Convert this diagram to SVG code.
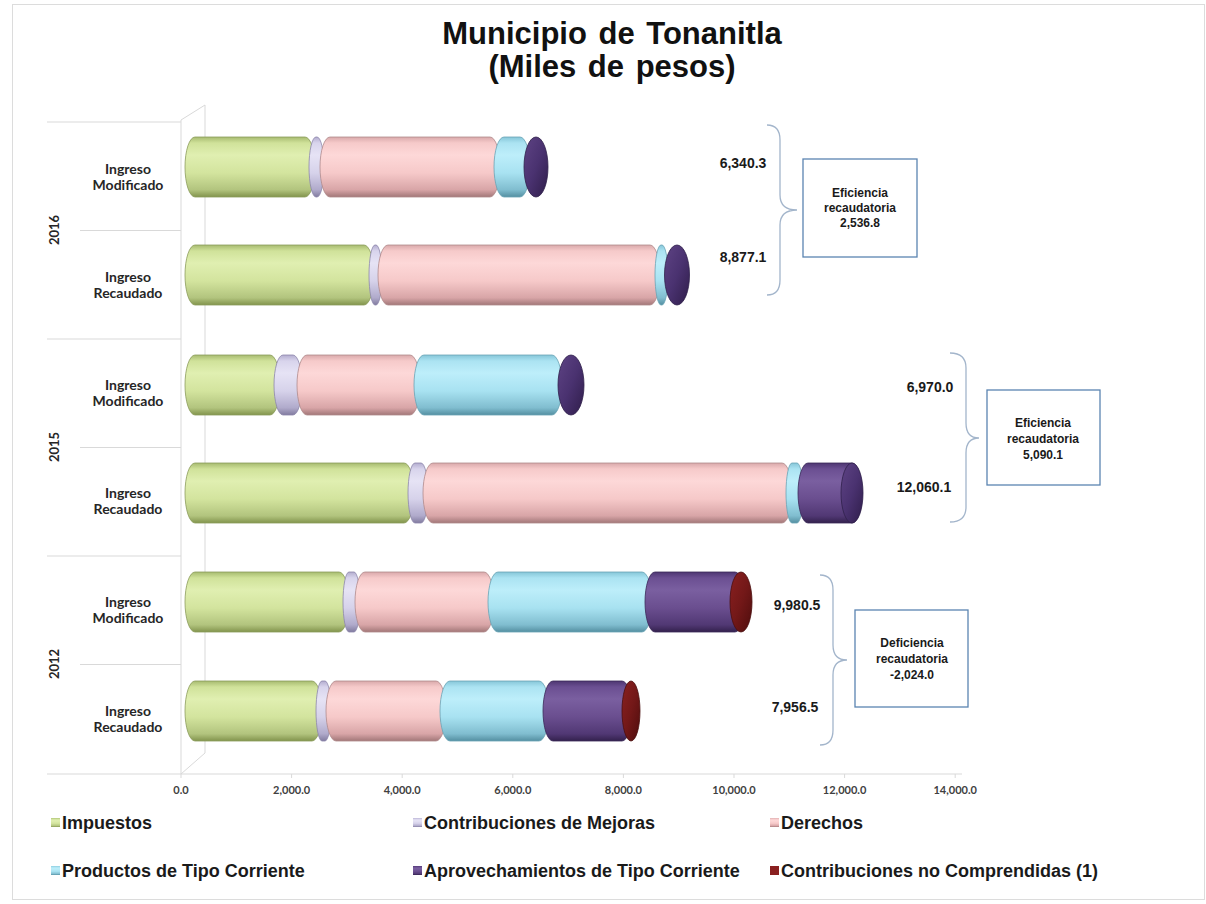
<svg xmlns="http://www.w3.org/2000/svg" width="1206" height="904" viewBox="0 0 1206 904">
<style>
.title{font-family:"Liberation Sans",Arial,sans-serif;font-weight:700;font-size:31px;fill:#111;text-anchor:middle;word-spacing:3px}
.cat{font-family:Lato,"Liberation Sans",sans-serif;font-weight:700;font-size:14px;fill:#262626;text-anchor:middle}
.yr{font-family:Lato,"Liberation Sans",sans-serif;font-weight:700;font-size:13px;fill:#262626;text-anchor:middle}
.tick{font-family:Lato,"Liberation Sans",sans-serif;font-weight:700;font-size:11px;fill:#404040;text-anchor:middle}
.val{font-family:"Liberation Sans",Arial,sans-serif;font-weight:700;font-size:14px;fill:#1a1a1a;text-anchor:middle}
.bx{font-family:"Liberation Sans",Arial,sans-serif;font-weight:700;font-size:12px;fill:#1a1a1a;text-anchor:middle}
.leg{font-family:"Liberation Sans",Arial,sans-serif;font-weight:700;font-size:18px;fill:#1a1a1a}
.grid{stroke:#d9d9d9;stroke-width:1;fill:none}
.brace{fill:none;stroke:#a3b5cb;stroke-width:1.3}
.box{fill:#fff;stroke:#5b84b1;stroke-width:1.3}
.g{fill:url(#gG);stroke:#8c9c5c;stroke-width:0.8}
.l{fill:url(#gL);stroke:#8d87ab;stroke-width:0.8}
.p{fill:url(#gP);stroke:#b08a8c;stroke-width:0.8}
.b{fill:url(#gB);stroke:#6aa3b5;stroke-width:0.8}
.u{fill:url(#gU);stroke:#3a2858;stroke-width:0.8}
.uc{fill:url(#gUC);stroke:#2f1f4a;stroke-width:0.8}
.rc{fill:url(#gRC);stroke:#4a0e0e;stroke-width:0.8}
</style>
<defs>
<linearGradient id="gG" x1="0" y1="0" x2="0" y2="1">
<stop offset="0" stop-color="#a7bb70"/><stop offset="0.1" stop-color="#d0e29a"/><stop offset="0.3" stop-color="#e0efb1"/><stop offset="0.6" stop-color="#d3e49e"/><stop offset="0.88" stop-color="#b2c47e"/><stop offset="1" stop-color="#82944d"/>
</linearGradient>
<linearGradient id="gL" x1="0" y1="0" x2="0" y2="1">
<stop offset="0" stop-color="#b3adcf"/><stop offset="0.1" stop-color="#d8d4ec"/><stop offset="0.3" stop-color="#e6e3f5"/><stop offset="0.6" stop-color="#d6d2ea"/><stop offset="0.88" stop-color="#b0aacb"/><stop offset="1" stop-color="#817b9f"/>
</linearGradient>
<linearGradient id="gP" x1="0" y1="0" x2="0" y2="1">
<stop offset="0" stop-color="#d9a9ab"/><stop offset="0.1" stop-color="#f6caca"/><stop offset="0.3" stop-color="#fdd8d8"/><stop offset="0.6" stop-color="#f6c9c9"/><stop offset="0.88" stop-color="#d8a5a7"/><stop offset="1" stop-color="#a27778"/>
</linearGradient>
<linearGradient id="gB" x1="0" y1="0" x2="0" y2="1">
<stop offset="0" stop-color="#86c6d8"/><stop offset="0.1" stop-color="#abe3f2"/><stop offset="0.3" stop-color="#bdeefa"/><stop offset="0.6" stop-color="#a8e2f1"/><stop offset="0.88" stop-color="#80bdcf"/><stop offset="1" stop-color="#548fa1"/>
</linearGradient>
<linearGradient id="gU" x1="0" y1="0" x2="0" y2="1">
<stop offset="0" stop-color="#4e3672"/><stop offset="0.1" stop-color="#6b4f92"/><stop offset="0.3" stop-color="#7a5fa0"/><stop offset="0.6" stop-color="#6a4e8f"/><stop offset="0.88" stop-color="#513874"/><stop offset="1" stop-color="#33214d"/>
</linearGradient>
<linearGradient id="gUC" x1="0" y1="0" x2="1" y2="1">
<stop offset="0" stop-color="#5e4384"/><stop offset="0.5" stop-color="#4a3270"/><stop offset="1" stop-color="#2f1d4a"/>
</linearGradient>
<linearGradient id="gRC" x1="0" y1="0" x2="1" y2="1">
<stop offset="0" stop-color="#8a2020"/><stop offset="0.5" stop-color="#731818"/><stop offset="1" stop-color="#4e0d0d"/>
</linearGradient>
</defs>

<rect x="12.5" y="4.5" width="1192" height="895" fill="#fff" stroke="#dcdcdc" stroke-width="1"/>

<g id="title">
<text class="title" x="612" y="44">Municipio de Tonanitla</text>
<text class="title" x="612" y="77">(Miles de pesos)</text>
</g>

<g id="axes">
<path class="grid" d="M181,120 L205,105 L205,753 L181,774 M181,120 L181,774"/>
<path class="grid" d="M47,122 H181 M80,230.5 H181 M47,339 H181 M80,447.5 H181 M47,556 H181 M80,664.5 H181 M47,774 H962"/>
<path class="grid" d="M181,774 v4 M291.6,774 v4 M402.2,774 v4 M512.8,774 v4 M623.4,774 v4 M734,774 v4 M844.6,774 v4 M955.2,774 v4"/>
<text class="tick" x="181" y="794">0.0</text>
<text class="tick" x="291.6" y="794">2,000.0</text>
<text class="tick" x="402.2" y="794">4,000.0</text>
<text class="tick" x="512.8" y="794">6,000.0</text>
<text class="tick" x="623.4" y="794">8,000.0</text>
<text class="tick" x="734" y="794">10,000.0</text>
<text class="tick" x="844.6" y="794">12,000.0</text>
<text class="tick" x="955.2" y="794">14,000.0</text>
</g>

<g id="category-labels">
<text class="cat" x="128" y="174">Ingreso</text><text class="cat" x="128" y="190">Modificado</text>
<text class="cat" x="128" y="282">Ingreso</text><text class="cat" x="128" y="298">Recaudado</text>
<text class="cat" x="128" y="390">Ingreso</text><text class="cat" x="128" y="406">Modificado</text>
<text class="cat" x="128" y="498">Ingreso</text><text class="cat" x="128" y="514">Recaudado</text>
<text class="cat" x="128" y="607">Ingreso</text><text class="cat" x="128" y="623">Modificado</text>
<text class="cat" x="128" y="716">Ingreso</text><text class="cat" x="128" y="732">Recaudado</text>
<text class="yr" transform="translate(59,230) rotate(-90)">2016</text>
<text class="yr" transform="translate(59,447) rotate(-90)">2015</text>
<text class="yr" transform="translate(59,664) rotate(-90)">2012</text>
</g>

<g id="bar-2016-modificado">
<rect class="g" x="185" y="137" width="130" height="60" rx="10" ry="30"/>
<rect class="l" x="309" y="137" width="15" height="60" rx="7" ry="30"/>
<rect class="p" x="320" y="137" width="180" height="60" rx="10" ry="30"/>
<rect class="b" x="494" y="137" width="36" height="60" rx="10" ry="30"/>
<ellipse class="uc" cx="536" cy="167" rx="12" ry="30"/>
</g>
<g id="bar-2016-recaudado">
<rect class="g" x="185" y="245" width="189" height="60" rx="10" ry="30"/>
<rect class="l" x="369" y="245" width="13" height="60" rx="6" ry="30"/>
<rect class="p" x="378" y="245" width="282" height="60" rx="10" ry="30"/>
<rect class="b" x="655" y="245" width="13" height="60" rx="6" ry="30"/>
<ellipse class="uc" cx="677" cy="275" rx="12.5" ry="30"/>
</g>
<g id="bar-2015-modificado">
<rect class="g" x="185" y="355" width="95" height="60" rx="10" ry="30"/>
<rect class="l" x="274" y="355" width="28" height="60" rx="9" ry="30"/>
<rect class="p" x="297" y="355" width="123" height="60" rx="10" ry="30"/>
<rect class="b" x="414" y="355" width="148" height="60" rx="10" ry="30"/>
<ellipse class="uc" cx="571" cy="385" rx="13" ry="30"/>
</g>
<g id="bar-2015-recaudado">
<rect class="g" x="185" y="463" width="229" height="60" rx="10" ry="30"/>
<rect class="l" x="408" y="463" width="20" height="60" rx="7" ry="30"/>
<rect class="p" x="423" y="463" width="369" height="60" rx="10" ry="30"/>
<rect class="b" x="786" y="463" width="17" height="60" rx="6" ry="30"/>
<rect class="u" x="798" y="463" width="64" height="60" rx="10" ry="30"/>
<ellipse class="uc" cx="852" cy="493" rx="11" ry="30"/>
</g>
<g id="bar-2012-modificado">
<rect class="g" x="185" y="572" width="164" height="60" rx="10" ry="30"/>
<rect class="l" x="343" y="572" width="17" height="60" rx="6" ry="30"/>
<rect class="p" x="355" y="572" width="139" height="60" rx="10" ry="30"/>
<rect class="b" x="488" y="572" width="164" height="60" rx="10" ry="30"/>
<rect class="u" x="645" y="572" width="100" height="60" rx="10" ry="30"/>
<ellipse class="rc" cx="741" cy="602" rx="11" ry="30"/>
</g>
<g id="bar-2012-recaudado">
<rect class="g" x="185" y="681" width="137" height="60" rx="10" ry="30"/>
<rect class="l" x="316" y="681" width="15" height="60" rx="6" ry="30"/>
<rect class="p" x="326" y="681" width="120" height="60" rx="10" ry="30"/>
<rect class="b" x="440" y="681" width="109" height="60" rx="10" ry="30"/>
<rect class="u" x="543" y="681" width="89" height="60" rx="10" ry="30"/>
<ellipse class="rc" cx="631" cy="711" rx="9" ry="30"/>
</g>

<g id="values">
<text class="val" x="743" y="168">6,340.3</text>
<text class="val" x="743" y="262">8,877.1</text>
<text class="val" x="930" y="392">6,970.0</text>
<text class="val" x="924" y="492">12,060.1</text>
<text class="val" x="797" y="610">9,980.5</text>
<text class="val" x="795" y="712">7,956.5</text>
</g>

<g id="connectors">
<path class="brace" d="M767,125 Q780,125 780,140 L780,195 Q780,210 797,210 Q780,210 780,225 L780,280 Q780,295 767,295"/>
<path class="brace" d="M950,353 Q966,353 966,368 L966,423 Q966,438 979,438 Q966,438 966,453 L966,507 Q966,522 950,522"/>
<path class="brace" d="M820,575 Q833,575 833,590 L833,645 Q833,660 847,660 Q833,660 833,675 L833,730 Q833,745 820,745"/>
</g>

<g id="box-2016">
<rect class="box" x="803" y="159" width="114" height="98"/>
<text class="bx" x="860" y="197">Eficiencia</text>
<text class="bx" x="860" y="212">recaudatoria</text>
<text class="bx" x="860" y="227">2,536.8</text>
</g>
<g id="box-2015">
<rect class="box" x="987" y="390" width="113" height="95"/>
<text class="bx" x="1043" y="427">Eficiencia</text>
<text class="bx" x="1043" y="443">recaudatoria</text>
<text class="bx" x="1043" y="459">5,090.1</text>
</g>
<g id="box-2012">
<rect class="box" x="855" y="610" width="113" height="97"/>
<text class="bx" x="912" y="647">Deficiencia</text>
<text class="bx" x="912" y="663">recaudatoria</text>
<text class="bx" x="912" y="679">-2,024.0</text>
</g>

<g id="legend">
<rect x="51" y="818" width="9" height="9" fill="url(#gG)"/>
<text class="leg" x="62" y="829">Impuestos</text>
<rect x="413" y="818" width="9" height="9" fill="url(#gL)"/>
<text class="leg" x="424" y="829">Contribuciones de Mejoras</text>
<rect x="770" y="818" width="9" height="9" fill="url(#gP)"/>
<text class="leg" x="781" y="829">Derechos</text>
<rect x="51" y="866" width="9" height="9" fill="url(#gB)"/>
<text class="leg" x="62" y="877">Productos de Tipo Corriente</text>
<rect x="413" y="866" width="9" height="9" fill="url(#gU)"/>
<text class="leg" x="424" y="877">Aprovechamientos de Tipo Corriente</text>
<rect x="770" y="866" width="9" height="9" fill="#8a2020"/>
<text class="leg" x="781" y="877">Contribuciones no Comprendidas (1)</text>
</g>
</svg>
